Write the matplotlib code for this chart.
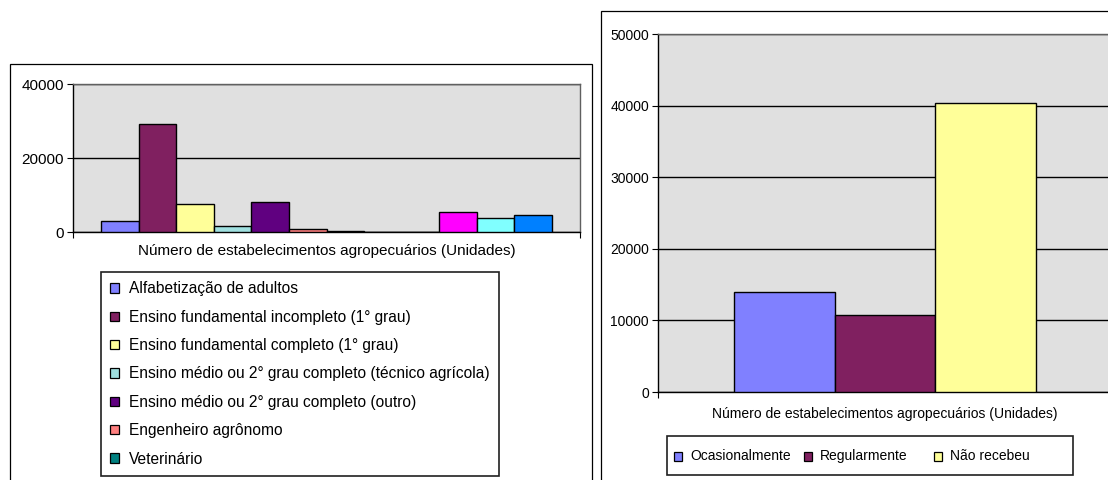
import matplotlib
matplotlib.use('Agg')
import matplotlib.pyplot as plt
from matplotlib.patches import Rectangle, Patch

plt.rcParams['font.family'] = ['Liberation Sans', 'DejaVu Sans']
plt.rcParams['font.size'] = 10

W, H = 1108, 480

# nível de instrução (12 series, the legend only has room for the first 7)
instr_labels = [
    'Alfabetização de adultos',
    'Ensino fundamental incompleto (1° grau)',
    'Ensino fundamental completo (1° grau)',
    'Ensino médio ou 2° grau completo (técnico agrícola)',
    'Ensino médio ou 2° grau completo (outro)',
    'Engenheiro agrônomo',
    'Veterinário',
]
instr_values = [3100, 29200, 7700, 1500, 8100, 800, 400, 0, 0, 5300, 3800, 4600]
instr_colors = ['#8080FF', '#802060', '#FFFF99', '#A0E0E0', '#600080', '#FF8080',
                '#008080', '#CCCCFF', '#000080', '#FF00FF', '#80FFFF', '#0080FF']
instr_ticks = [0, 20000, 40000]

# orientação técnica
orient_labels = ['Ocasionalmente', 'Regularmente', 'Não recebeu']
orient_values = [13900, 10700, 40400]
orient_colors = ['#8080FF', '#802060', '#FFFF99']
orient_ticks = [0, 10000, 20000, 30000, 40000, 50000]

xlabel = 'Número de estabelecimentos agropecuários (Unidades)'


def px_box(x0, y0, x1, y1):
    # pixel box (top-left origin) -> figure fraction [left, bottom, width, height]
    return [x0 / W, 1 - y1 / H, (x1 - x0) / W, (y1 - y0) / H]


def bar_chart(ax, values, colors, ticks, fs, labelpad):
    n = len(values)
    ax.bar(range(n), values, width=1.0, color=colors, edgecolor='black',
           linewidth=1.0, zorder=3)
    lo, hi = -1.25, n - 1 + 1.25
    ax.set_xlim(lo, hi)
    ax.set_ylim(ticks[0], ticks[-1])
    ax.set_yticks(ticks)
    ax.set_yticklabels([str(t) for t in ticks])
    ax.set_xticks([lo, hi])
    ax.set_xticklabels(['', ''])
    ax.set_facecolor('#E0E0E0')
    ax.yaxis.grid(True, color='black', linewidth=1.0, zorder=1)
    ax.set_axisbelow(True)
    ax.tick_params(direction='out', length=4.5, width=0.8, pad=2, labelsize=fs)
    for side in ['left', 'bottom']:
        ax.spines[side].set_color('black')
        ax.spines[side].set_linewidth(1.0)
    for side in ['top', 'right']:
        ax.spines[side].set_color('#606060')
        ax.spines[side].set_linewidth(1.0)
    ax.set_xlabel(xlabel, fontsize=fs, labelpad=labelpad)


fig = plt.figure(figsize=(W / 100, H / 100), dpi=100)

# chart frames
fig.add_artist(Rectangle((10 / W, -0.05), (592 - 10) / W, 1.05 - 64 / H,
                         transform=fig.transFigure, fill=False,
                         edgecolor='black', linewidth=0.9))
fig.add_artist(Rectangle((601 / W, -0.05), 0.5, 1.05 - 11 / H,
                         transform=fig.transFigure, fill=False,
                         edgecolor='black', linewidth=0.9))

ax1 = fig.add_axes(px_box(73, 84, 580, 232))
bar_chart(ax1, instr_values, instr_colors, instr_ticks, 11, 2)

handles = [Patch(facecolor=c, edgecolor='black', linewidth=0.9)
           for c in instr_colors[:len(instr_labels)]]
leg = fig.legend(handles, instr_labels, loc='upper left',
                 bbox_to_anchor=(101 / W, 1 - 272 / H, (499 - 101) / W, 0),
                 mode='expand', fontsize=11.2, frameon=True, fancybox=False,
                 edgecolor='#202020', framealpha=1, borderpad=0.6,
                 labelspacing=0.86, handlelength=0.55, handleheight=0.55,
                 handletextpad=0.65, borderaxespad=0)
leg.get_frame().set_linewidth(1.2)

ax2 = fig.add_axes(px_box(658, 34, 1112, 392))
bar_chart(ax2, orient_values, orient_colors, orient_ticks, 10, 4)

# horizontal legend with equal-width columns
fig.add_artist(Rectangle((667 / W, 1 - 475 / H), (1073 - 667) / W, (475 - 436) / H,
                         transform=fig.transFigure, facecolor='white',
                         edgecolor='#202020', linewidth=1.2))
for i, (lab, col) in enumerate(zip(orient_labels, orient_colors)):
    x = 674 + i * 130
    fig.add_artist(Rectangle((x / W, 1 - 460.5 / H), 8 / W, 9 / H,
                             transform=fig.transFigure, facecolor=col,
                             edgecolor='black', linewidth=0.9))
    fig.text((x + 16) / W, 1 - 456 / H, lab, fontsize=10, va='center', ha='left')

fig.savefig('out.png', dpi=100)
